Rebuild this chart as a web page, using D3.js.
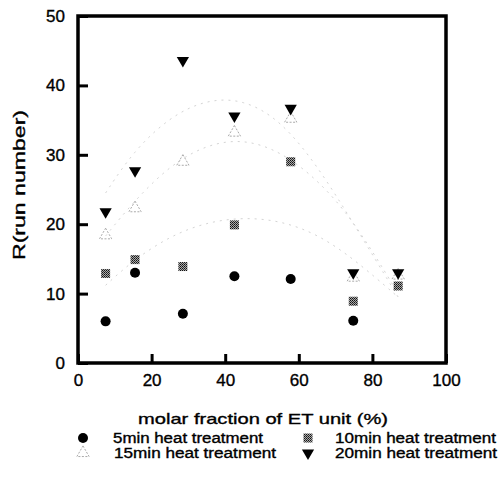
<!DOCTYPE html>
<html><head><meta charset="utf-8">
<script src="https://cdn.jsdelivr.net/npm/d3@7"></script>
<style>body{margin:0;background:#fff}svg{display:block}text{font-family:"Liberation Sans",Arial,sans-serif;fill:#000;stroke:#000;stroke-width:0.35px}</style>
</head><body><svg id="c" width="501" height="477"></svg>
<script>
const xTicks=[0,20,40,60,80,100];
const yTicks=[0,10,20,30,40,50];
const xs5=[7.5,15.5,28.5,42.5,57.8,74.8];
const min5=[6,13,7.1,12.5,12.1,6.1];
const xs=[7.5,15.5,28.5,42.5,57.8,74.8,87];
const min10=[12.9,14.9,13.9,19.9,29,8.9,11.1];
const min15=[18.4,22.3,29,33.2,35.2,12.3,12.6];
const min20=[21.8,27.7,43.6,35.6,36.7,13,13];
// faint fitted curves
const fitX=[7.5,15,25,35,45,55,65,75,87];
const fit10=[11.2,14.8,18.3,20.3,21,20.5,18.6,15,9.5];
const fit15=[18.3,23.2,28.5,31.5,32.3,30.5,26.5,20.5,10];
const fit20=[24.5,30.5,35.5,38,38,35,28.5,20,9.5];
const legendLabels=["5min heat treatment","10min heat treatment","15min heat treatment","20min heat treatment"];

const svg=d3.select("#c");
const x=d3.scaleLinear().domain([0,100]).range([78,446]);
const y=d3.scaleLinear().domain([0,50]).range([363,16]);

const defs=svg.append("defs");
const pat=defs.append("pattern").attr("id","dith").attr("width",2).attr("height",2).attr("patternUnits","userSpaceOnUse");
pat.append("rect").attr("width",2).attr("height",2).attr("fill","#aaa");
pat.append("rect").attr("width",1).attr("height",1).attr("fill","#111");
pat.append("rect").attr("x",1).attr("y",1).attr("width",1).attr("height",1).attr("fill","#333");

// fit curves
const line=d3.line().x((d,i)=>x(fitX[i])).y(d=>y(d)).curve(d3.curveBasis);
[fit10,fit15,fit20].forEach(f=>{
  svg.append("path").attr("d",line(f)).attr("fill","none").attr("stroke","#d4d4d4").attr("stroke-width",1).attr("stroke-dasharray","2,5");
});

// axes with inward ticks
const gx=svg.append("g").attr("transform",`translate(0,${y(0)})`).call(d3.axisBottom(x).tickValues(xTicks).tickSize(-9).tickPadding(17));
const gy=svg.append("g").attr("transform",`translate(${x(0)},0)`).call(d3.axisLeft(y).tickValues(yTicks).tickSize(-10).tickPadding(13));
[gx,gy].forEach(g=>{g.select(".domain").remove();
  g.selectAll(".tick line").attr("stroke","#000").attr("stroke-width",3);
  g.selectAll("text").attr("font-size",17).attr("font-family","Liberation Sans, Arial, sans-serif").attr("fill","#000");});
gx.selectAll("text").attr("dy","0.35em");

// frame
svg.append("path").attr("d",`M${x(0)},${y(50)}H${x(100)}V${y(0)}H${x(0)}Z`).attr("fill","none").attr("stroke","#000").attr("stroke-width",3.5).attr("stroke-linejoin","miter");

// titles
svg.append("text").attr("x",263).attr("y",424).attr("text-anchor","middle").attr("font-size",15).attr("textLength",250).attr("lengthAdjust","spacingAndGlyphs").text("molar fraction of ET unit (%)");
svg.append("text").attr("transform","translate(25,185) rotate(-90)").attr("text-anchor","middle").attr("font-size",16).attr("textLength",150).attr("lengthAdjust","spacingAndGlyphs").text("R(run number)");

// markers
const tri=d3.symbol().type(d3.symbolTriangle).size(65);
function drawCircle(g,cx,cy){g.append("circle").attr("cx",cx).attr("cy",cy).attr("r",5).attr("fill","#000");}
function drawSquare(g,cx,cy){g.append("rect").attr("x",cx-4.5).attr("y",cy-4.5).attr("width",9).attr("height",9).attr("fill","url(#dith)");}
function drawOpenTri(g,cx,cy){g.append("path").attr("d",tri()).attr("transform",`translate(${cx},${cy})`).attr("fill","none").attr("stroke","#aaa").attr("stroke-width",1).attr("stroke-dasharray","2,1.5");}
function drawDownTri(g,cx,cy){g.append("path").attr("d",tri()).attr("transform",`translate(${cx},${cy}) rotate(180)`).attr("fill","#000");}

const gm=svg.append("g");
xs.forEach((v,i)=>drawOpenTri(gm,x(v),y(min15[i])));
xs.forEach((v,i)=>drawSquare(gm,x(v),y(min10[i])));
xs5.forEach((v,i)=>drawCircle(gm,x(v),y(min5[i])));
xs.forEach((v,i)=>drawDownTri(gm,x(v),y(min20[i])));

// legend
const lg=svg.append("g");
const lpos=[[83,438,113,150],[308,438,335,161],[83,453,114,162],[308,453,335,162]];
const drawers=[drawCircle,drawSquare,drawOpenTri,drawDownTri];
legendLabels.forEach((t,i)=>{
  const p=lpos[i];
  drawers[i](lg,p[0],p[1]);
  lg.append("text").attr("x",p[2]).attr("y",p[1]+5).attr("font-size",14).attr("textLength",p[3]).attr("lengthAdjust","spacingAndGlyphs").text(t);
});
</script></body></html>
